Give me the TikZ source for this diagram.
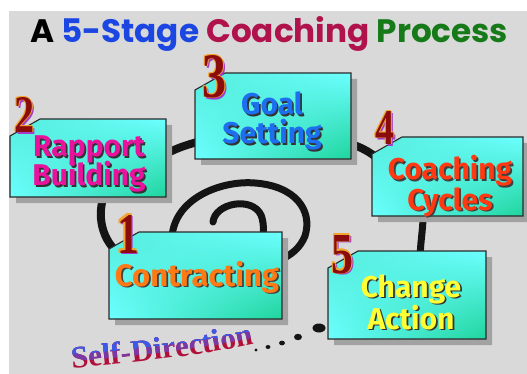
\documentclass[tikz,border=0pt]{standalone}
\usepackage{fontspec}
\usetikzlibrary{decorations.text,shadings}

\newfontfamily\titlefont{Poppins}
\newfontfamily\labelfont{Fira Sans}
\newfontfamily\digitfont{Liberation Serif}
\newfontfamily\sdfont{Liberation Serif}

\definecolor{bg}{HTML}{D9D9D9}
\definecolor{shadowgray}{HTML}{A2A2A2}
\definecolor{boxline}{HTML}{2A2A2A}
\definecolor{boxA}{HTML}{55ECDC}
\definecolor{boxB}{HTML}{6CFFFF}
\definecolor{boxC}{HTML}{1ED49C}
\definecolor{tblue}{HTML}{1C46E2}
\definecolor{tred}{HTML}{B0124C}
\definecolor{tgreen}{HTML}{167A18}
\definecolor{cmagenta}{HTML}{E8129C}
\definecolor{cblue}{HTML}{1E6EF0}
\definecolor{cred}{HTML}{FF3A12}
\definecolor{corange}{HTML}{FF7A14}
\definecolor{cyellow}{HTML}{FFFF34}
\definecolor{dred}{HTML}{8A0C0C}
\definecolor{dorange}{HTML}{F2A632}
\definecolor{dpurple}{HTML}{A43CC8}
\definecolor{sdred}{HTML}{B0103A}
\definecolor{sdpurple}{HTML}{7A38A4}
\definecolor{sdblue}{HTML}{3A5AE8}

\tikzset{
  spiral/.style={draw=black!92, line width=8pt},
  boxedge/.style={draw=boxline, line width=1.1pt},
  lbl/.style={font=\labelfont\bfseries\fontsize{30}{29}\selectfont, align=center, inner sep=0pt},
  digitnode/.style={anchor=base, inner sep=0pt, font=\digitfont\bfseries\fontsize{50}{50}\selectfont},
  sdtext/.style={decorate, decoration={text along path, text align=left,
      text={|\sdfont\bfseries\fontsize{31}{31}\selectfont\color{#1}|Self-Direction}}},
}

% notched stage box with drop shadow: left, top, right, bottom
\newcommand\stagebox[4]{%
  \fill[shadowgray, shift={(6,6)}] (#1,#4) -- (#1,#2+17) -- (#1+30,#2) -- (#3,#2) -- (#3,#4) -- cycle;
  \shade[upper left=boxA, upper right=boxB, lower left=boxB, lower right=boxC]
    (#1,#4) -- (#1,#2+17) -- (#1+30,#2) -- (#3,#2) -- (#3,#4) -- cycle;
  \draw[boxedge] (#1,#4) -- (#1,#2+17) -- (#1+30,#2) -- (#3,#2) -- (#3,#4) -- cycle;
}
% label with dark drop shadow: name, x, y, colour, shadow colour, text
\newcommand\stagelabel[6]{%
  \node[lbl, text=#5] at (#2+1.7,#3+1.7) {#6};
  \node[lbl, text=#4] (#1) at (#2,#3) {#6};
}
% outlined stage number: name, x, baseline, height, digit
\newcommand\dg[2]{\resizebox{!}{#1pt}{\scalebox{.76}[1]{#2}}}
\newcommand\stagedigit[5]{%
  \node[digitnode, text=dpurple] at (#2+1.6,#3+1.3) {\dg{#4}{#5}};
  \node[digitnode, text=dorange] at (#2-1.4,#3) {\dg{#4}{#5}};
  \node[digitnode, text=dorange] at (#2,#3-1.4) {\dg{#4}{#5}};
  \node[digitnode, text=dorange] at (#2-1.2,#3-1.2) {\dg{#4}{#5}};
  \node[digitnode, text=dorange] at (#2+0.9,#3) {\dg{#4}{#5}};
  \node[digitnode, text=dred] (#1) at (#2,#3) {\dg{#4}{#5}};
}

\begin{document}
\begin{tikzpicture}[x=1pt, y=-1pt]
  \useasboundingbox (0,0) rectangle (527,374);
  \fill[white] (0,0) rectangle (527,374);
  \fill[bg] (9,11) rectangle (527,374);

  % heading
  \node[anchor=base west, inner sep=0pt] (title) at (30,43)
    {\resizebox{478pt}{26pt}{\titlefont\bfseries A \textcolor{tblue}{5-Stage} \textcolor{tred}{Coaching} \textcolor{tgreen}{Process}}};

  % the spiral, from its centre outwards
  \draw[spiral, line width=7pt, line cap=round] (213,222) .. controls (215,203) and (252,196) .. (261,215)
        .. controls (265,225) and (263,236) .. (262,246);
  \draw[spiral, line width=7pt] (172,246) .. controls (168,200) and (220,180) .. (255,183)
        .. controls (295,186) and (313,210) .. (305,236) .. controls (300,248) and (292,255) .. (276,262);
  \draw[spiral] (122,256) .. controls (102,242) and (95,215) .. (106,190);
  \draw[spiral] (155,161) .. controls (170,150) and (185,145) .. (205,140);
  \draw[spiral] (340,142) .. controls (356,144) and (368,150) .. (382,162);
  \draw[spiral, line width=7pt] (423,205) .. controls (424,228) and (420,240) .. (420,262);

  % trail of dots leading out
  \fill[black!92] (319,328) ellipse [x radius=6.5pt, y radius=4.5pt];
  \fill[black!92] (298,337) ellipse [x radius=4pt, y radius=3.2pt];
  \fill[black!92] (282,343) ellipse [x radius=3pt, y radius=2.4pt];
  \fill[black!92] (268,347) ellipse [x radius=2.4pt, y radius=2pt];
  \fill[black!92] (256,350) circle [radius=1.7pt];

  % "Self-Direction", red below shading to blue above
  \path[sdtext=sdred] (72,368) .. controls (140,362) and (200,356) .. (258,343);
  \begin{scope}
    \clip (60,300) -- (60,361) -- (72,361) .. controls (140,355) and (200,349) .. (258,336) -- (280,331) -- (280,300) -- cycle;
    \path[sdtext=sdpurple] (72,368) .. controls (140,362) and (200,356) .. (258,343);
  \end{scope}
  \begin{scope}
    \clip (60,300) -- (60,354) -- (72,354) .. controls (140,348) and (200,342) .. (258,329) -- (280,324) -- (280,300) -- cycle;
    \path[sdtext=sdblue] (72,368) .. controls (140,362) and (200,356) .. (258,343);
  \end{scope}

  % the five stages
  \stagebox{10}{119}{166}{197}
  \stagebox{195}{73}{351}{159}
  \stagebox{372}{137}{523}{216}
  \stagebox{109}{232}{282}{319}
  \stagebox{328}{251}{486}{339}

  \stagelabel{rapport}{89}{164}{cmagenta}{black!80}{Rapport\\[-3pt]Building}
  \stagelabel{goal}{272}{121}{cblue}{black!80}{Goal\\Setting}
  \stagelabel{cycles}{450}{186}{cred}{black!75}{Coaching\\Cycles}
  \stagelabel{contract}{197}{277}{corange}{black!75}{\fontsize{31}{31}\selectfont Contracting}
  \stagelabel{change}{411}{302}{cyellow}{black!80}{Change\\Action}

  \stagedigit{n1}{128}{253}{38}{1}
  \stagedigit{n2}{25}{133}{35}{2}
  \stagedigit{n3}{215}{98}{42}{3}
  \stagedigit{n4}{385}{145}{33}{4}
  \stagedigit{n5}{343}{273}{38}{5}
\end{tikzpicture}
\end{document}
